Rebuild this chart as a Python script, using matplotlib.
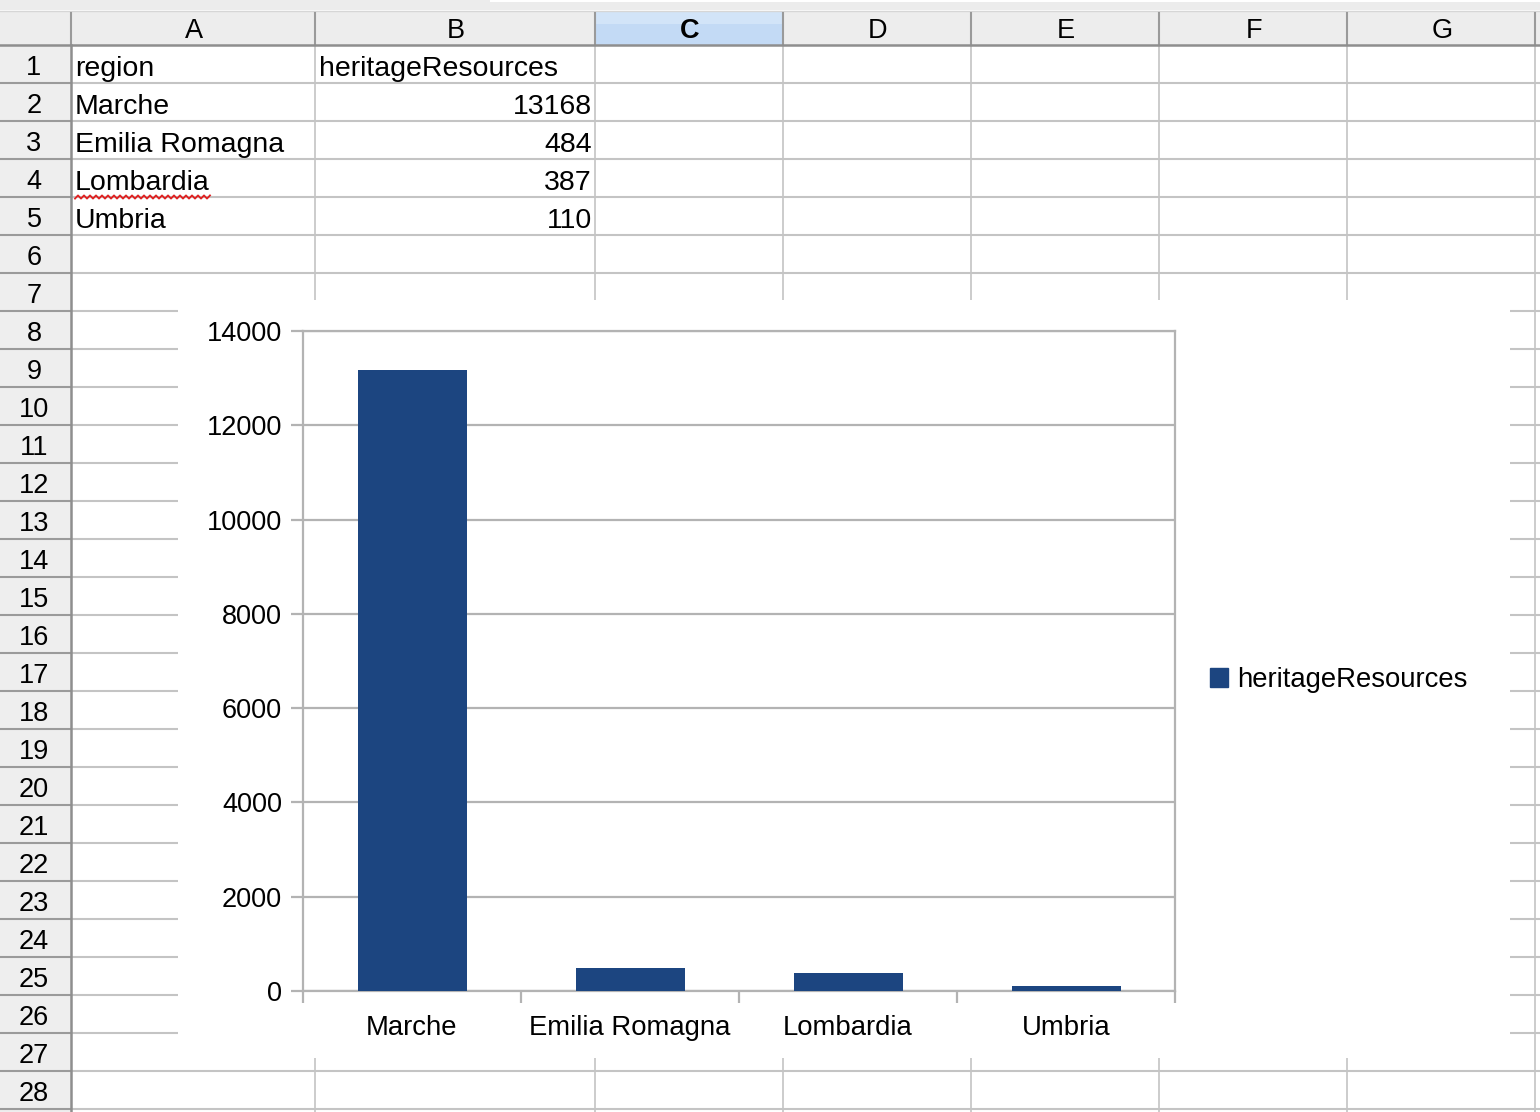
import matplotlib
matplotlib.use('Agg')
import matplotlib.pyplot as plt
from matplotlib.patches import Rectangle, Patch
import numpy as np

plt.rcParams['font.family'] = ['Liberation Sans', 'DejaVu Sans']

# dati del foglio
header = ['region', 'heritageResources']
regions = ['Marche', 'Emilia Romagna', 'Lombardia', 'Umbria']
heritage = [13168, 484, 387, 110]
y_ticks = [0, 2000, 4000, 6000, 8000, 10000, 12000, 14000]
col_letters = ['A', 'B', 'C', 'D', 'E', 'F', 'G']

W, H = 1540, 1112
fig = plt.figure(figsize=(W / 100, H / 100), dpi=100)

# sfondo: griglia del foglio in pixel
bg = fig.add_axes([0, 0, 1, 1])
bg.set_xlim(0, W)
bg.set_ylim(H, 0)
bg.axis('off')

col_edges = [71, 315, 595, 783, 971, 1159, 1347, 1535]
row_top, row_h, n_rows = 45, 38, 28
cell_line = '#c4c4c4'
head_line = '#9a9a9a'

# barra in alto e intestazioni
bg.add_patch(Rectangle((0, 0), W, 10, color='#ececec', lw=0))
bg.add_patch(Rectangle((490, 0), W - 490, 2, color='white', lw=0))
bg.plot([0, W], [10.5, 10.5], color='#d6d6d6', lw=1)
bg.add_patch(Rectangle((0, 12), W, row_top - 12, color='#ededed', lw=0))
bg.add_patch(Rectangle((0, row_top), 71, H - row_top, color='#eeeeee', lw=0))
# colonna C selezionata
bg.add_patch(Rectangle((col_edges[2], 12), col_edges[3] - col_edges[2], row_top - 12,
                       color='#c3daf5', lw=0))
bg.add_patch(Rectangle((col_edges[2], 12), col_edges[3] - col_edges[2], 12,
                       color='#d2e4f8', lw=0))

# linee delle celle
for k in range(1, n_rows + 2):
    y = row_top + row_h * k
    bg.plot([71, W], [y, y], color=cell_line, lw=1.5, solid_capstyle='butt')
    bg.plot([0, 71], [y, y], color=head_line, lw=1.5, solid_capstyle='butt')
for x in col_edges[1:]:
    bg.plot([x, x], [row_top, H], color=cell_line, lw=1.2)
for x in col_edges:
    bg.plot([x, x], [13, row_top], color=head_line, lw=1.5)
bg.plot([0, W], [row_top, row_top], color='#8e8e8e', lw=1.8)
bg.plot([71, 71], [row_top, H], color='#8e8e8e', lw=1.8)

# lettere delle colonne
for i, letter in enumerate(col_letters):
    cx = (col_edges[i] + col_edges[i + 1]) / 2
    bg.text(cx + 1, 38, letter, ha='center', va='baseline', fontsize=19.5,
            fontweight='bold' if letter == 'C' else 'normal')

# numeri di riga
for r in range(1, n_rows + 1):
    bg.text(34, row_top + row_h * r - 8, str(r), ha='center', va='baseline', fontsize=19.5)

# contenuto delle celle
bg.text(col_edges[0] + 4, row_top + row_h - 7, header[0], ha='left', va='baseline', fontsize=20.5)
bg.text(col_edges[1] + 4, row_top + row_h - 7, header[1], ha='left', va='baseline', fontsize=20.5)
for i, (reg, val) in enumerate(zip(regions, heritage)):
    yb = row_top + row_h * (i + 2) - 7
    bg.text(col_edges[0] + 4, yb, reg, ha='left', va='baseline', fontsize=20.5)
    bg.text(col_edges[2] - 3, yb, str(val), ha='right', va='baseline', fontsize=20.5)

# sottolineatura ondulata del correttore (Lombardia)
ux = np.arange(75, 212, 3)
uy = 197 + 1.6 * (-1) ** np.arange(len(ux))
bg.plot(ux, uy, color='#e02020', lw=1.3)

# riquadro bianco del grafico
bg.add_patch(Rectangle((178, 300), 1510 - 178, 1058 - 300, color='white', lw=0, zorder=5))

# grafico a barre
bar_color = '#1c4580'
grid_color = '#b3b3b3'
ax = fig.add_axes([303 / W, 1 - 991 / H, (1175 - 303) / W, (991 - 331) / H])
ax.set_zorder(10)
x = np.arange(len(regions))
ax.bar(x, heritage, width=0.5, color=bar_color, zorder=3)
ax.set_xlim(-0.5, len(regions) - 0.5)
ax.set_ylim(0, 14000)
ax.set_yticks(y_ticks)
ax.set_yticklabels([str(v) for v in y_ticks])
ax.set_xticks(x)
ax.set_xticklabels(regions)
ax.set_xticks(np.arange(len(regions) + 1) - 0.5, minor=True)
ax.yaxis.grid(True, color=grid_color, lw=1.6)
ax.set_axisbelow(True)
for s in ax.spines.values():
    s.set_color(grid_color)
    s.set_linewidth(1.6)
ax.tick_params(axis='y', direction='out', length=8.6, width=1.6, color=grid_color,
               labelsize=19.5, pad=6.5)
ax.tick_params(axis='x', which='major', length=0, labelsize=19.8, pad=17)
ax.tick_params(axis='x', which='minor', direction='out', length=8.6, width=1.6, color=grid_color)

fig.legend(handles=[Patch(color=bar_color, label=header[1])], loc='center left',
           bbox_to_anchor=(1210 / W, 1 - 680 / H), frameon=False, fontsize=19.8,
           handlelength=0.65, handleheight=0.65, handletextpad=0.33,
           borderpad=0, borderaxespad=0)

fig.savefig('out.png', dpi=100)
